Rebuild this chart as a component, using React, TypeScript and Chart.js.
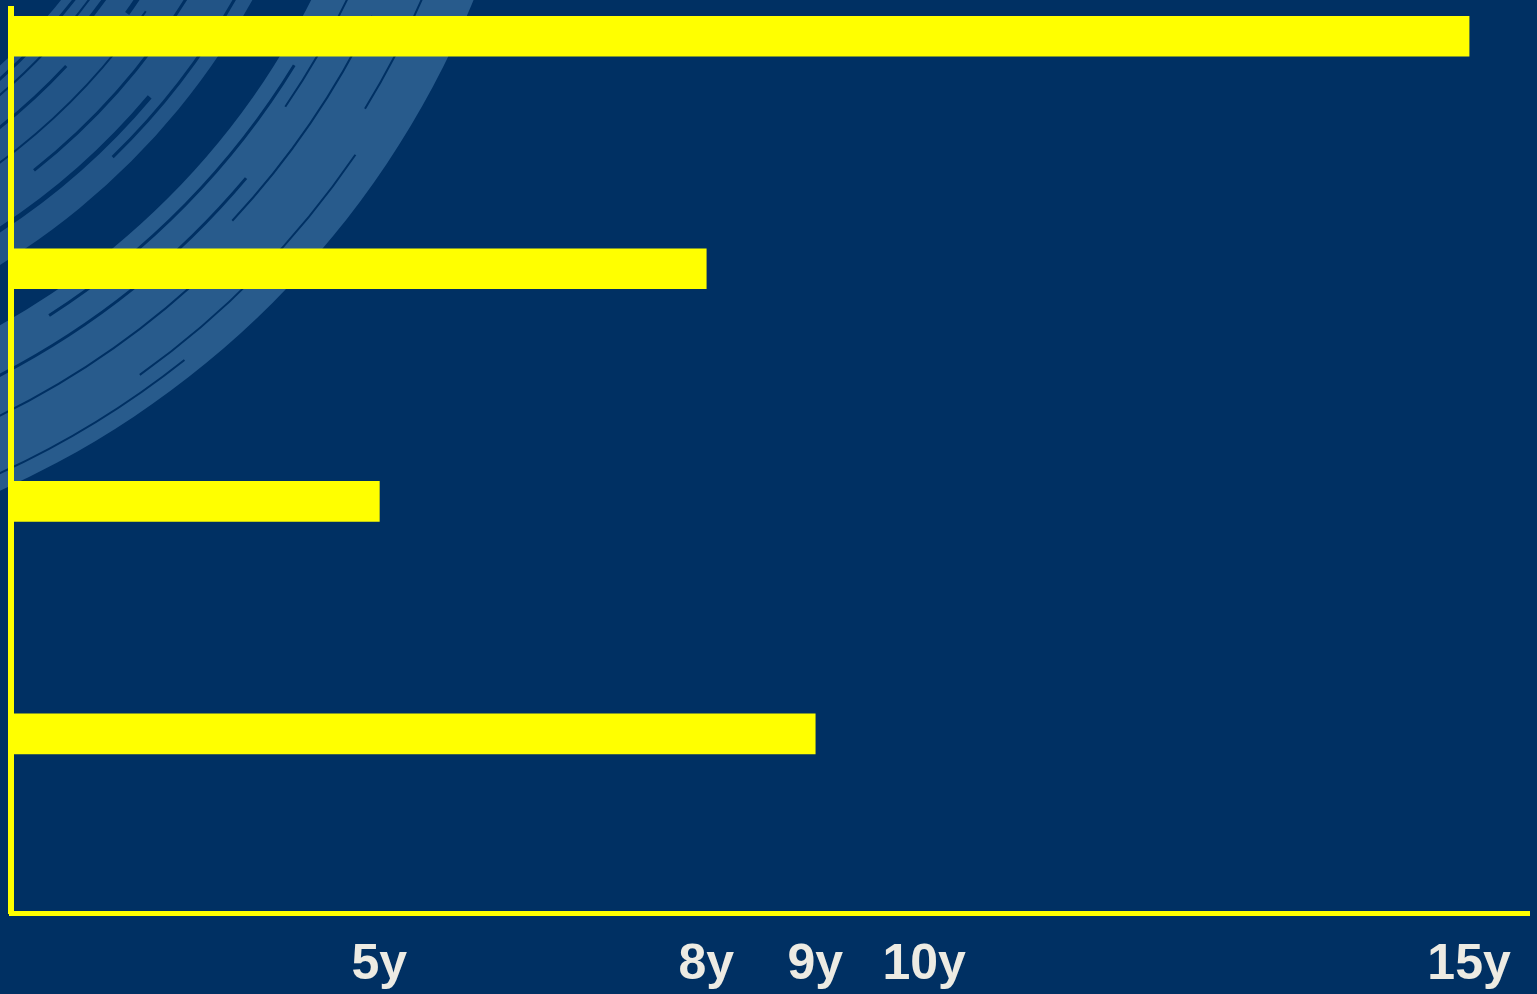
import React, { useEffect, useRef } from "react";
import { Chart, registerables } from "chart.js";

Chart.register(...registerables);

// Bars from top to bottom (no category labels are shown in the picture)
const CATEGORIES: string[] = ["Bar 1", "Bar 2", "Bar 3", "Bar 4"];
const YEARS: number[] = [15, 8, 5, 9];
// Tick marks shown on the horizontal axis
const TICK_VALUES: number[] = [5, 8, 9, 10, 15];
const TICK_LABELS: string[] = ["5y", "8y", "9y", "10y", "15y"];

const NAVY = "#003063";
const SWOOSH = "#285B8C";
const YELLOW = "#FFFF00";
const LABEL_COLOR = "#EDEBE3";

const swooshBackground = {
  id: "swooshBackground",
  beforeDraw(chart: any) {
    const { ctx, width, height } = chart;
    ctx.save();
    ctx.fillStyle = NAVY;
    ctx.fillRect(0, 0, width, height);

    const cx = -375;
    const cy = -345;
    const q = Math.PI / 2;

    // outer brush band
    ctx.beginPath();
    ctx.arc(cx, cy, 916, 0, q);
    ctx.arc(cx, cy, 768, q, 0, true);
    ctx.closePath();
    ctx.fillStyle = SWOOSH;
    ctx.fill();

    // inner brush band
    ctx.beginPath();
    ctx.arc(cx, cy, 716, 0, q);
    ctx.arc(cx, cy, 556, q, 0, true);
    ctx.closePath();
    ctx.globalAlpha = 0.85;
    ctx.fill();
    ctx.globalAlpha = 1;

    // dark brush streaks
    const dark: [number, number, number, number][] = [
      [566, 3, 0.3, 1.2], [578, 2, 0.5, 1.0], [590, 4, 0.2, 0.7], [603, 3, 0.75, 1.3],
      [617, 5, 0.35, 0.62], [631, 2, 0.6, 1.2], [644, 6, 0.25, 0.5], [658, 3, 0.55, 0.9],
      [672, 4, 0.3, 0.45], [686, 5, 0.7, 1.1], [700, 3, 0.4, 0.8],
      [785, 3, 0.55, 1.0], [800, 2, 0.3, 0.6], [812, 3, 0.7, 1.1], [830, 2, 0.45, 0.75],
      [848, 2, 0.8, 1.2], [868, 2, 0.35, 0.55], [885, 2, 0.6, 0.95], [900, 2, 0.9, 1.2],
    ];
    ctx.strokeStyle = NAVY;
    for (const [r, w, a0, a1] of dark) {
      ctx.lineWidth = w;
      ctx.beginPath();
      ctx.arc(cx, cy, r, a0, a1);
      ctx.stroke();
    }
    ctx.restore();
  },
};

export default function App() {
  const canvasRef = useRef<HTMLCanvasElement | null>(null);

  useEffect(() => {
    const canvas = canvasRef.current;
    if (!canvas) return;
    const chart = new Chart(canvas, {
      type: "bar",
      data: {
        labels: CATEGORIES,
        datasets: [
          {
            label: "Years",
            data: YEARS.map((v, i) => ({ x: v, y: i })) as any,
            backgroundColor: YELLOW,
            borderWidth: 0,
            barThickness: 40,
          },
        ],
      },
      options: {
        indexAxis: "y",
        animation: false,
        responsive: false,
        layout: { padding: { left: 11, top: 9, right: 8, bottom: -23 } },
        plugins: { legend: { display: false }, tooltip: { enabled: false } },
        scales: {
          x: {
            type: "linear",
            min: 1.62,
            max: 15.55,
            grid: { display: false, drawTicks: false },
            border: { display: true, color: YELLOW, width: 5 },
            afterBuildTicks: (scale: any) => {
              scale.ticks = TICK_VALUES.map((v) => ({ value: v }));
            },
            ticks: {
              color: LABEL_COLOR,
              padding: 22,
              autoSkip: false,
              maxRotation: 0,
              font: { family: "'Liberation Sans', Arial, sans-serif", size: 50, weight: "bold" },
              callback: (v: any) => {
                const i = TICK_VALUES.indexOf(Number(v));
                return i >= 0 ? TICK_LABELS[i] : "";
              },
            },
          },
          y: {
            type: "linear",
            reverse: true,
            offset: false,
            min: -0.117,
            max: 3.77,
            grid: { display: false, drawTicks: false, offset: false },
            border: { display: true, color: YELLOW, width: 6 },
            ticks: { display: false },
          },
        },
      } as any,
      plugins: [swooshBackground],
    });
    return () => chart.destroy();
  }, []);

  return (
    <div style={{ position: "fixed", left: 0, top: 0, width: 1537, height: 994, background: NAVY }}>
      <canvas ref={canvasRef} width={1537} height={994} style={{ display: "block" }} />
    </div>
  );
}
